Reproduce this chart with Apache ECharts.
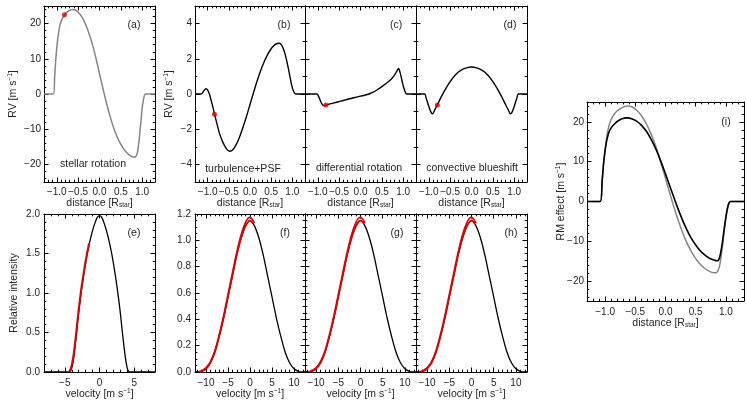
<!DOCTYPE html>
<html><head><meta charset="utf-8">
<script src="https://cdn.jsdelivr.net/npm/echarts@6/dist/echarts.min.js"></script>
<style>html,body{margin:0;padding:0;background:#fff}#c{width:747px;height:401px}</style>
</head><body><div id="c"></div>
<script>
// ---------------- DATA ----------------
// x = distance [R_star], y = RV [m/s]
const stellarRotationRV = [[-1.3,0],[-1.08,0],[-1.05,5],[-1.02,10.5],[-0.98,15.5],[-0.94,18.8],[-0.9,20.6],[-0.85,21.9],[-0.8,22.8],[-0.72,23.6],[-0.64,24],[-0.56,23.8],[-0.48,23.0],[-0.4,21.6],[-0.32,19.6],[-0.24,17],[-0.16,13.8],[-0.08,10.0],[0,5.8],[0.08,1.6],[0.16,-2.4],[0.24,-6],[0.32,-9.2],[0.4,-11.8],[0.48,-13.9],[0.56,-15.5],[0.64,-16.7],[0.72,-17.5],[0.8,-17.9],[0.85,-17.8],[0.89,-16.5],[0.93,-12.8],[0.97,-7.8],[1.01,-3],[1.05,-0.4],[1.08,0],[1.3,0]];
const turbulenceRV = [[-1.3,0],[-1.16,0],[-1.12,0.08],[-1.08,0.22],[-1.04,0.3],[-1.0,0.22],[-0.96,0],[-0.92,-0.35],[-0.88,-0.72],[-0.84,-1.12],[-0.78,-1.7],[-0.72,-2.25],[-0.64,-2.75],[-0.56,-3.1],[-0.48,-3.25],[-0.4,-3.15],[-0.32,-2.85],[-0.24,-2.4],[-0.16,-1.85],[-0.08,-1.25],[0,-0.6],[0.08,0.05],[0.16,0.68],[0.24,1.25],[0.32,1.75],[0.4,2.17],[0.48,2.5],[0.56,2.74],[0.64,2.87],[0.7,2.88],[0.76,2.72],[0.82,2.35],[0.88,1.75],[0.94,1.05],[0.99,0.45],[1.04,0.1],[1.08,0],[1.3,0]];
const diffRotationRV = [[-1.3,0],[-1.02,0],[-0.98,-0.15],[-0.94,-0.38],[-0.9,-0.58],[-0.86,-0.67],[-0.81,-0.63],[-0.74,-0.58],[-0.66,-0.53],[-0.58,-0.48],[-0.5,-0.43],[-0.4,-0.37],[-0.3,-0.3],[-0.2,-0.24],[-0.1,-0.18],[0,-0.12],[0.1,-0.07],[0.2,0.0],[0.3,0.1],[0.4,0.25],[0.5,0.42],[0.6,0.6],[0.7,0.8],[0.78,1.02],[0.84,1.25],[0.89,1.45],[0.93,1.2],[0.97,0.78],[1.01,0.38],[1.05,0.1],[1.08,0],[1.3,0]];
const convBlueshiftRV = [[-1.3,0],[-1.1,0],[-1.06,-0.25],[-1.02,-0.55],[-0.98,-0.85],[-0.94,-1.07],[-0.91,-1.13],[-0.87,-0.95],[-0.83,-0.75],[-0.78,-0.52],[-0.7,-0.12],[-0.6,0.32],[-0.5,0.7],[-0.4,1.02],[-0.3,1.26],[-0.2,1.42],[-0.1,1.5],[0,1.53],[0.1,1.5],[0.2,1.42],[0.3,1.26],[0.4,1.02],[0.5,0.7],[0.6,0.32],[0.7,-0.12],[0.78,-0.52],[0.83,-0.75],[0.87,-0.95],[0.91,-1.13],[0.94,-1.07],[0.98,-0.85],[1.02,-0.55],[1.06,-0.25],[1.1,0],[1.3,0]];
const rmEffectTotal = [[-1.3,0],[-1.08,0],[-1.05,5],[-1.02,10.3],[-0.98,14.8],[-0.94,17.3],[-0.9,18.5],[-0.85,19.4],[-0.8,20.1],[-0.72,20.8],[-0.64,21],[-0.56,20.8],[-0.48,20.2],[-0.4,19.2],[-0.32,17.7],[-0.24,15.7],[-0.16,13.2],[-0.08,10.2],[0,6.9],[0.08,3.5],[0.16,0.1],[0.24,-3.1],[0.32,-6],[0.4,-8.5],[0.48,-10.5],[0.56,-12.1],[0.64,-13.3],[0.72,-14.2],[0.8,-14.7],[0.86,-14.9],[0.9,-13.8],[0.94,-10.5],[0.98,-6],[1.02,-2.2],[1.05,-0.4],[1.08,0],[1.3,0]];
// red markers (planet position shown in the profiles)
const markerA = [[-0.82,22.5]];
const markerB = [[-0.84,-1.15]];
const markerC = [[-0.81,-0.63]];
const markerD = [[-0.8,-0.62]];
// line profiles: x = velocity [m/s], y = relative intensity
const profileRot = [[-8,0],[-4.4,0],[-4.2,0.01],[-4,0.05],[-3.8,0.13],[-3.6,0.26],[-3.3,0.5],[-3,0.75],[-2.6,1.03],[-2.2,1.27],[-1.8,1.48],[-1.4,1.65],[-1,1.79],[-0.6,1.9],[-0.3,1.96],[0,1.98],[0.3,1.96],[0.6,1.9],[1,1.79],[1.4,1.65],[1.8,1.48],[2.2,1.27],[2.6,1.03],[3,0.75],[3.3,0.5],[3.6,0.27],[3.8,0.14],[4,0.05],[4.2,0.01],[4.4,0],[8,0]];
const profileRotRed = [[-4.4,0],[-4.2,0.03],[-4,0.09],[-3.8,0.18],[-3.6,0.31],[-3.3,0.55],[-3,0.79],[-2.6,1.07],[-2.2,1.3],[-1.8,1.5],[-1.5,1.63]];
const profileConv = [[-12.5,0],[-11.5,0],[-11,0.005],[-10,0.025],[-9,0.07],[-8,0.15],[-7,0.27],[-6,0.41],[-5,0.57],[-4,0.73],[-3,0.89],[-2,1.02],[-1,1.11],[0,1.15],[1,1.11],[2,1.02],[3,0.89],[4,0.73],[5,0.57],[6,0.41],[7,0.27],[8,0.15],[9,0.07],[10,0.025],[11,0.005],[11.5,0],[12.5,0]];
const profileConvRedUpper = [[-11.5,0.003],[-11,0.009],[-10,0.031],[-9,0.078],[-8,0.161],[-7,0.284],[-6,0.428],[-5,0.59],[-4,0.752],[-3,0.912],[-2,1.045],[-1,1.138],[-0.4,1.17],[0,1.174],[0.5,1.16],[1,1.13]];
const profileConvRedLower = [[-11.5,0],[-11,0.005],[-10,0.025],[-9,0.07],[-8,0.15],[-7,0.27],[-6,0.41],[-5,0.57],[-4,0.73],[-3,0.89],[-2,1.02],[-1,1.11],[0,1.15],[0.8,1.125]];
// panel texts
const panelLetters = ['(a)','(b)','(c)','(d)','(e)','(f)','(g)','(h)','(i)'];
const effectNames = ['stellar rotation','turbulence+PSF','differential rotation','convective blueshift'];

// ---------------- CHART ----------------
const FONT = '"Liberation Sans", Arial, sans-serif';
const TXT = '#262626';
const BLACK = '#000', GRAY = '#858585', RED = '#e00000';
function fmt(step, dec){
  return function(v){
    const k = v/step;
    if (Math.abs(k-Math.round(k)) > 1e-6) return '';
    let s = (Math.abs(v) < 1e-9 ? 0 : v).toFixed(dec);
    return s.replace('-', '\u2212');
  };
}
const richBase = {
  t:{fontSize:10.5, lineHeight:12, color:TXT, fontFamily:FONT},
  s:{fontSize:6.5, lineHeight:6, padding:[6,0,0,0], verticalAlign:'bottom', color:TXT, fontFamily:FONT},
  p:{fontSize:6.5, lineHeight:6, padding:[0,0,6,0], verticalAlign:'top', color:TXT, fontFamily:FONT}
};
const NAME_DIST = '{t|distance [R}{s|star}{t|]}';
const NAME_RV = '{t|RV [m s}{p|\u22121}{t|]}';
const NAME_VEL = '{t|velocity [m s}{p|\u22121}{t|]}';
const NAME_RM = '{t|RM effect [m s}{p|\u22121}{t|]}';
const NAME_INT = '{t|Relative intensity}';

const xDist = {min:-1.3,max:1.3,split:5,minor:5,step:0.5,dec:1};
const yRVa = {min:-25,max:25,split:5,minor:5,step:10,dec:0};
const yRVb = {min:-5,max:5,split:5,minor:2,step:2,dec:0};
const xVelE = {min:-8,max:8,split:3,minor:5,step:5,dec:0};
const yIntE = {min:0,max:2,split:4,minor:5,step:0.5,dec:1};
const xVelF = {min:-12.5,max:12.5,split:5,minor:5,step:5,dec:0};
const yIntF = {min:0,max:1.2,split:6,minor:4,step:0.2,dec:1};

const profRedLines = [{d:profileConv,c:BLACK,w:1.3},{d:profileConvRedLower,c:RED,w:1.6},{d:profileConvRedUpper,c:RED,w:1.6}];
const panels = [
  {grid:{left:44,top:6,width:111,height:176}, x:xDist, y:yRVa, xl:{margin:5,name:NAME_DIST,gap:15}, yl:{margin:3,name:NAME_RV,gap:25},
   lines:[{d:stellarRotationRV,c:GRAY,w:1.5}], dots:markerA},
  {grid:{left:195,top:6,width:110,height:176}, x:xDist, y:yRVb, xl:{margin:5,name:NAME_DIST,gap:15}, yl:{margin:3,name:NAME_RV,gap:20},
   lines:[{d:turbulenceRV,c:BLACK,w:1.4}], dots:markerB},
  {grid:{left:305,top:6,width:111,height:176}, x:xDist, y:yRVb, xl:{margin:5,name:NAME_DIST,gap:15}, yl:null,
   lines:[{d:diffRotationRV,c:BLACK,w:1.4}], dots:markerC},
  {grid:{left:416,top:6,width:111,height:176}, x:xDist, y:yRVb, xl:{margin:5,name:NAME_DIST,gap:15}, yl:null,
   lines:[{d:convBlueshiftRV,c:BLACK,w:1.4}], dots:markerD},
  {grid:{left:44,top:214,width:111,height:158}, x:xVelE, y:yIntE, xl:{margin:6,name:NAME_VEL,gap:16}, yl:{margin:4,name:NAME_INT,gap:24},
   lines:[{d:profileRot,c:BLACK,w:1.3},{d:profileRotRed,c:RED,w:2}]},
  {grid:{left:195,top:214,width:110,height:158}, x:xVelF, y:yIntF, xl:{margin:6,name:NAME_VEL,gap:16}, yl:{margin:4},
   lines:profRedLines},
  {grid:{left:305,top:214,width:111,height:158}, x:xVelF, y:yIntF, xl:{margin:6,name:NAME_VEL,gap:16}, yl:null,
   lines:profRedLines},
  {grid:{left:416,top:214,width:111,height:158}, x:xVelF, y:yIntF, xl:{margin:6,name:NAME_VEL,gap:16}, yl:null,
   lines:profRedLines},
  {grid:{left:587,top:102,width:157,height:199}, x:xDist, y:yRVa, xl:{margin:6,name:NAME_DIST,gap:16}, yl:{margin:3,name:NAME_RM,gap:20},
   lines:[{d:stellarRotationRV,c:GRAY,w:1.5},{d:rmEffectTotal,c:BLACK,w:1.6}]}
];

const grids=[], xAxes=[], yAxes=[], series=[];
function axis(ax, gi, pos, lab){
  const o = {
    type:'value', gridIndex:gi, position:pos, min:ax.min, max:ax.max, splitNumber:ax.split,
    axisLine:{show:true, onZero:false, lineStyle:{color:'#000', width:1}},
    axisTick:{show:true, inside:true, length:4.5, lineStyle:{color:'#000', width:1}},
    minorTick:{show:true, splitNumber:ax.minor, length:2.3, lineStyle:{color:'#000', width:1}},
    splitLine:{show:false}, minorSplitLine:{show:false},
    axisLabel:{show:false}
  };
  if (lab){
    if (lab.margin !== undefined) o.axisLabel = {show:true, margin:lab.margin, formatter:fmt(ax.step, ax.dec), color:TXT, fontSize:10, fontFamily:FONT};
    if (lab.name){
      o.name = lab.name; o.nameLocation = 'middle'; o.nameGap = lab.gap; o.nameMoveOverlap = false;
      o.nameTextStyle = {rich:richBase};
    }
  }
  return o;
}
panels.forEach((p, gi) => {
  grids.push(Object.assign({outerBoundsMode:'none', containLabel:false, show:false}, p.grid));
  const xi = xAxes.length, yi = yAxes.length;
  xAxes.push(axis(p.x, gi, 'bottom', p.xl));
  xAxes.push(axis(p.x, gi, 'top', null));
  yAxes.push(axis(p.y, gi, 'left', p.yl));
  yAxes.push(axis(p.y, gi, 'right', null));
  p.lines.forEach(l => series.push({
    type:'line', xAxisIndex:xi, yAxisIndex:yi, data:l.d, showSymbol:false, smooth:0.3,
    lineStyle:{color:l.c, width:l.w}, silent:true, z:2
  }));
  if (p.dots) series.push({type:'scatter', xAxisIndex:xi, yAxisIndex:yi, data:p.dots, symbolSize:5,
    itemStyle:{color:RED}, silent:true, z:4});
});

const letterPos = [[134,25],[284,25],[396,25],[510,25],[134,233],[285,233],[397,233],[511,233],[726,122]];
const effectPos = [[93,164],[243,169],[359,168],[472,168]];
const graphic = [];
function txt(s, pos){
  return {type:'text', x:pos[0], y:pos[1], silent:true,
    style:{text:s, fill:TXT, font:'10.5px ' + FONT, textAlign:'center', textVerticalAlign:'middle', align:'center', verticalAlign:'middle'}};
}
panelLetters.forEach((s,i) => graphic.push(txt(s, letterPos[i])));
effectNames.forEach((s,i) => graphic.push(txt(s, effectPos[i])));

const chart = echarts.init(document.getElementById('c'));
chart.setOption({
  animation:false, backgroundColor:'#fff',
  grid:grids, xAxis:xAxes, yAxis:yAxes, series:series, graphic:graphic
});
</script></body></html>
